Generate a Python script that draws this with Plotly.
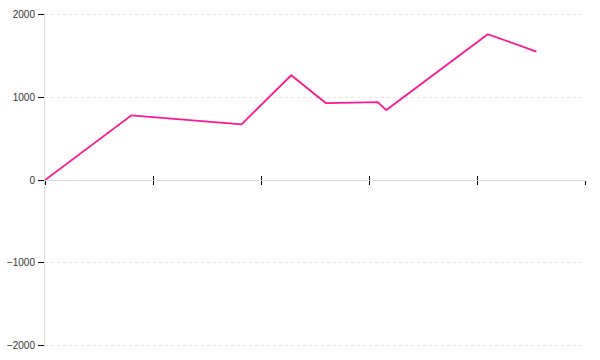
import plotly.graph_objects as go

x_vals = [0, 8.0, 18.2, 22.8, 26.0, 30.8, 31.6, 41.0, 45.5]
y_vals = [0, 782, 673, 1267, 931, 943, 846, 1764, 1554]
y_ticks = [-2000, -1000, 0, 1000, 2000]
x_ticks = [0, 10, 20, 30, 40, 50]

fig = go.Figure()
fig.add_trace(go.Scatter(x=x_vals, y=y_vals, mode="lines",
                         line=dict(color="#ff1493", width=1.8), showlegend=False))
fig.add_trace(go.Scatter(x=[x_vals[0]], y=[y_vals[0]], mode="lines", xaxis="x2",
                         line=dict(color="rgba(0,0,0,0)"), showlegend=False, hoverinfo="skip"))

fig.update_layout(
    width=600, height=360,
    margin=dict(l=45, r=15, t=13, b=13),
    paper_bgcolor="white", plot_bgcolor="white",
    font=dict(family="Liberation Sans", size=10, color="#333"),
    xaxis=dict(range=[0, 50], tickvals=x_ticks, showticklabels=False, showgrid=False,
               zeroline=False, showline=True, linecolor="#ddd", linewidth=1,
               ticks="outside", ticklen=4, tickcolor="black", tickwidth=1,
               anchor="free", position=0.5, automargin=False),
    xaxis2=dict(range=[0, 50], tickvals=x_ticks, showticklabels=False, showgrid=False,
                zeroline=False, showline=False, overlaying="x",
                ticks="inside", ticklen=4, tickcolor="black", tickwidth=1,
                anchor="free", position=0.5, automargin=False),
    yaxis=dict(range=[-2020, 2020], tickvals=y_ticks, showgrid=True, gridcolor="#e4e4e4",
               griddash="dot", zeroline=False, showline=True, linecolor="#ddd", linewidth=1,
               ticks="outside", ticklen=6, tickcolor="black", tickwidth=1,
               ticklabelstandoff=1, automargin=False),
)

fig.write_html("out.html")
